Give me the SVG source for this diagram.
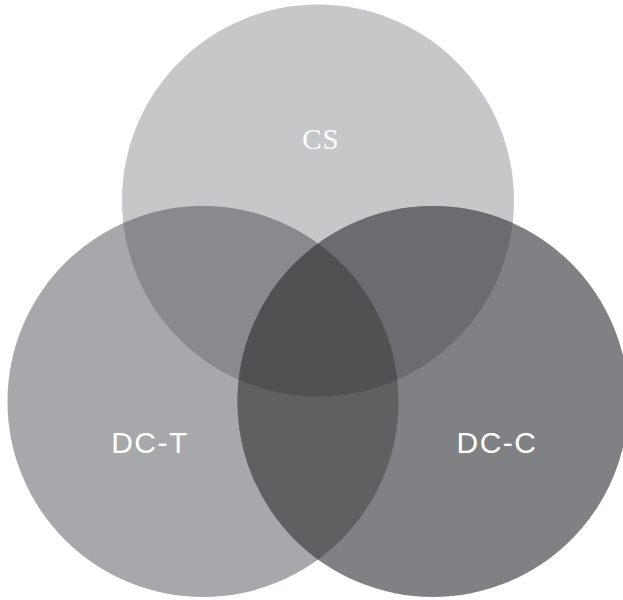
<svg xmlns="http://www.w3.org/2000/svg" width="623" height="600" viewBox="0 0 623 600">
<style>
.lbl{fill:#ffffff;text-anchor:middle}
.serif{font-family:"Liberation Serif","DejaVu Serif",serif;font-size:29px;letter-spacing:1px}
.sans{font-family:"Liberation Sans","DejaVu Sans",sans-serif;font-size:30px;letter-spacing:1.5px}
</style>
<defs>
<clipPath id="cCS"><circle cx="318" cy="200.5" r="196"/></clipPath>
<clipPath id="cDT"><circle cx="203" cy="401.5" r="195.5"/></clipPath>
</defs>
<rect width="623" height="600" fill="#ffffff"/>
<g id="node-cs"><circle cx="318" cy="200.5" r="196" fill="#c6c7c9"/></g>
<g id="node-dct"><circle cx="203" cy="401.5" r="195.5" fill="#a7a8ab"/></g>
<g id="node-dcc"><circle cx="433" cy="401.5" r="195.5" fill="#808184"/></g>
<g id="overlaps">
<circle cx="203" cy="401.5" r="195.5" fill="#898a8e" clip-path="url(#cCS)"/>
<circle cx="433" cy="401.5" r="195.5" fill="#6b6c70" clip-path="url(#cCS)"/>
<circle cx="433" cy="401.5" r="195.5" fill="#606063" clip-path="url(#cDT)"/>
<g clip-path="url(#cCS)"><circle cx="433" cy="401.5" r="195.5" fill="#515154" clip-path="url(#cDT)"/></g>
</g>
<g id="labels">
<text class="lbl serif" x="321" y="149">CS</text>
<text class="lbl sans" x="150" y="453">DC-T</text>
<text class="lbl sans" x="497" y="453">DC-C</text>
</g>
</svg>
